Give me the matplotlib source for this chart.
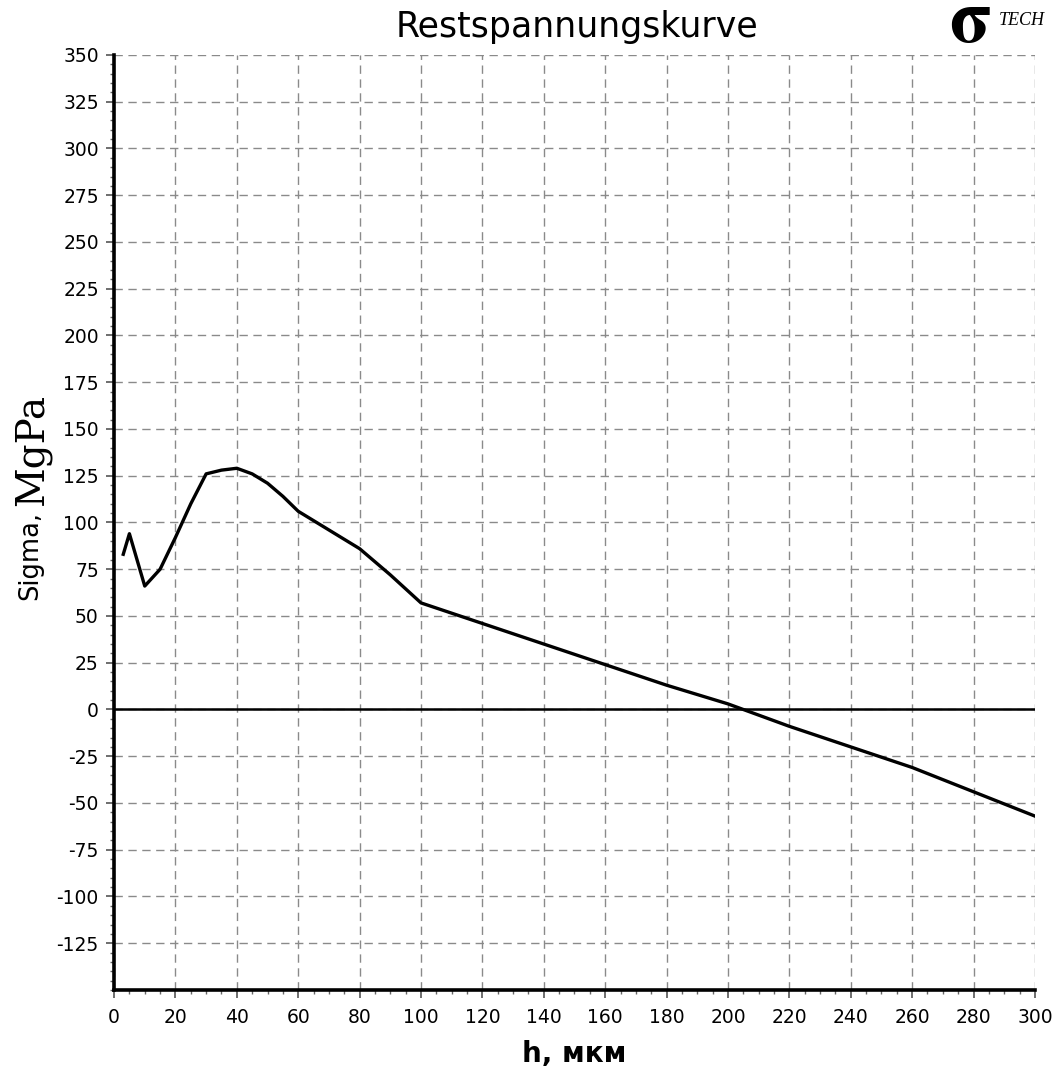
import matplotlib
matplotlib.use("Agg")
import matplotlib.pyplot as plt
from matplotlib.ticker import MultipleLocator

# depth h (mkm) and residual stress (MPa)
h = [3, 5, 10, 15, 20, 25, 30, 35, 40, 45, 50, 55, 60, 70, 80, 90, 100,
     120, 140, 160, 180, 200, 220, 240, 260, 280, 300]
sigma = [83, 94, 66, 75, 92, 110, 126, 128, 129, 126, 121, 114, 106, 96, 86,
         72, 57, 46, 35, 24, 13, 3, -9, -20, -31, -44, -57]

x_ticks = list(range(0, 301, 20))
y_ticks = list(range(-125, 351, 25))

plt.rcParams['font.family'] = ['DejaVu Sans']
plt.rcParams['axes.unicode_minus'] = False

fig = plt.figure(figsize=(10.57, 10.72), dpi=100)
ax = fig.add_axes([0.1079, 0.0765, 0.8712, 0.8722])

ax.set_xlim(0, 300)
ax.set_ylim(-150, 350)

# grid
ax.grid(True, which='major', color='#8a8a8a', linestyle=(0, (6, 4)), linewidth=1.0)
ax.set_axisbelow(True)

ax.axhline(0, color='black', linewidth=1.8)
ax.plot(h, sigma, color='black', linewidth=2.4, solid_joinstyle='round')

ax.set_xticks(x_ticks)
ax.set_yticks(y_ticks)
ax.xaxis.set_minor_locator(MultipleLocator(5))
ax.yaxis.set_minor_locator(MultipleLocator(5))
ax.tick_params(which='major', direction='out', length=6, width=1.2, labelsize=13.5,
               color='#555555', pad=5)
ax.tick_params(axis='x', which='major', pad=7)
ax.tick_params(which='minor', direction='out', length=3, width=1.0, color='#666666')

for side in ['top', 'right']:
    ax.spines[side].set_visible(False)
for side in ['left', 'bottom']:
    ax.spines[side].set_linewidth(2.6)

fig.text(0.546, 0.9655, "Restspannungskurve", fontsize=25, ha='center', va='baseline')
fig.text(0.543, 0.0093, "h, мкм", fontsize=20, fontweight='bold', ha='center', va='baseline')

# y label: sans part and serif part
fig.text(0.035, 0.482, "Sigma,", rotation=90, rotation_mode='anchor', fontsize=18.5,
         ha='center', va='baseline')
fig.text(0.0407, 0.580, "MgPa", rotation=90, rotation_mode='anchor', fontsize=28,
         ha='center', va='baseline', family='DejaVu Serif')

# logo in the top right corner
fig.text(0.898, 0.9605, r"$\mathbf{σ}$", fontsize=54, ha='left', va='baseline',
         math_fontfamily='stix')
fig.text(0.945, 0.9767, "TECH", fontsize=13, style='italic', ha='left', va='baseline',
         family='Liberation Serif')

fig.savefig("out.png", dpi=100)
